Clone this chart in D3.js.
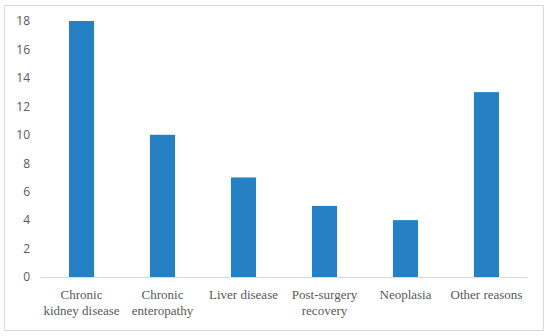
<!DOCTYPE html>
<html>
<head>
<meta charset="utf-8">
<script src="https://cdn.jsdelivr.net/npm/d3@7"></script>
<style>
  body { margin: 0; background: #fff; }
  .xlab { font-family: 'Liberation Serif', 'Times New Roman', serif; font-size: 13px; fill: #595959; }
  .ylab text { font-family: 'Open Sans', 'DejaVu Sans', sans-serif; font-size: 12px; fill: #595959; }
</style>
</head>
<body>
<div id="chart"></div>
<script>
const categories = [
    ['Chronic', 'kidney disease'],
    ['Chronic', 'enteropathy'],
    ['Liver disease'],
    ['Post-surgery', 'recovery'],
    ['Neoplasia'],
    ['Other reasons']
];
const values = [18, 10, 7, 5, 4, 13];
const yTicks = [0, 2, 4, 6, 8, 10, 12, 14, 16, 18];

const W = 550, H = 336;
const margin = { top: 21, right: 23, bottom: 59, left: 41 };
const width = W - margin.left - margin.right;
const height = H - margin.top - margin.bottom;

const svg = d3.select('#chart')
    .append('svg')
    .attr('width', W)
    .attr('height', H);

// outer frame
svg.append('rect')
    .attr('x', 4.5).attr('y', 5.5)
    .attr('width', 539).attr('height', 325)
    .attr('fill', 'none')
    .attr('stroke', '#d9d9d9')
    .attr('stroke-width', 1);

const g = svg.append('g')
    .attr('transform', `translate(${margin.left},${margin.top})`);

const labels = categories.map(c => c.join(' '));

const x = d3.scaleBand()
    .domain(labels)
    .range([0, width])
    .paddingInner(0.69)
    .paddingOuter(0.345);

const y = d3.scaleLinear()
    .domain([0, 18])
    .range([height, 0]);

// bars
g.selectAll('.bar')
    .data(values)
    .enter().append('rect')
    .attr('class', 'bar')
    .attr('x', (d, i) => x(labels[i]))
    .attr('y', d => y(d))
    .attr('width', x.bandwidth())
    .attr('height', d => height - y(d))
    .attr('fill', '#2581c4');

// y axis labels
const yAxis = g.append('g')
    .attr('class', 'ylab')
    .call(d3.axisLeft(y).tickValues(yTicks).tickSize(0).tickPadding(11));
yAxis.select('.domain').remove();
yAxis.attr('font-family', null).attr('font-size', null);

// baseline
g.append('line')
    .attr('x1', 0).attr('x2', width)
    .attr('y1', height + 0.5).attr('y2', height + 0.5)
    .attr('stroke', '#d9d9d9')
    .attr('stroke-width', 1);

// category labels
const xl = g.append('g')
    .selectAll('text')
    .data(categories)
    .enter().append('text')
    .attr('class', 'xlab')
    .attr('x', (d, i) => x(labels[i]) + x.bandwidth() / 2)
    .attr('y', height + 22)
    .attr('text-anchor', 'middle');

xl.selectAll('tspan')
    .data(d => d)
    .enter().append('tspan')
    .attr('x', function() { return d3.select(this.parentNode).attr('x'); })
    .attr('dy', (d, i) => i === 0 ? 0 : 16)
    .text(d => d);
</script>
</body>
</html>
